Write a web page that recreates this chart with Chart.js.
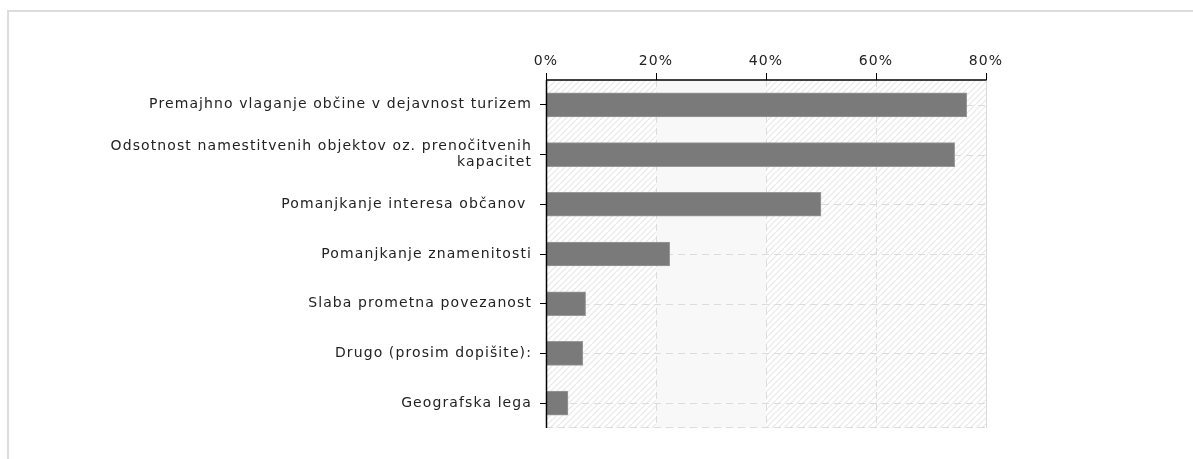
<!DOCTYPE html>
<html><head><meta charset="utf-8">
<script src="https://cdn.jsdelivr.net/npm/chart.js@4"></script>
<style>
html,body{margin:0;padding:0;background:#fff;}
#wrap{position:relative;width:1193px;height:459px;overflow:hidden;}
#frame{position:absolute;left:7px;top:10px;width:1300px;height:600px;border-top:2px solid #dcdcdc;border-left:2px solid #dcdcdc;}
canvas{position:absolute;left:0;top:0;}
</style></head>
<body>
<div id="wrap"><div id="frame"></div><canvas id="c" width="1193" height="459"></canvas></div>
<script>
const categories = [
  'Premajhno vlaganje občine v dejavnost turizem',
  ['Odsotnost namestitvenih objektov oz. prenočitvenih', 'kapacitet'],
  'Pomanjkanje interesa občanov ',
  'Pomanjkanje znamenitosti',
  'Slaba prometna povezanost',
  'Drugo (prosim dopišite):',
  'Geografska lega'
];
const percentages = [76.5, 74.3, 50.0, 22.5, 7.2, 6.7, 4.0];
const xTicks = [0, 20, 40, 60, 80];

const FONT = {family: 'DejaVu Sans', size: 14, lineHeight: 1.15};
const SPACING = '1.1px';

const spacingPlugin = {
  id: 'spacing',
  beforeLayout(chart) { chart.ctx.letterSpacing = SPACING; },
  beforeDraw(chart) { chart.ctx.letterSpacing = SPACING; }
};

const bgPlugin = {
  id: 'bg',
  beforeDatasetsDraw(chart) {
    const {ctx, chartArea: a, scales: {x, y}} = chart;
    ctx.save();
    const pc = document.createElement('canvas');
    pc.width = 6; pc.height = 6;
    const p = pc.getContext('2d');
    p.fillStyle = '#ffffff'; p.fillRect(0,0,6,6);
    p.strokeStyle = '#e8e8e8'; p.lineWidth = 1.2;
    p.beginPath(); p.moveTo(-1,7); p.lineTo(7,-1); p.moveTo(-1,1); p.lineTo(1,-1); p.moveTo(5,7); p.lineTo(7,5); p.stroke();
    ctx.fillStyle = ctx.createPattern(pc, 'repeat');
    ctx.fillRect(a.left, a.top, a.right - a.left, a.bottom - a.top);
    ctx.fillStyle = '#f8f8f8';
    const x20 = x.getPixelForValue(20), x40 = x.getPixelForValue(40);
    ctx.fillRect(x20, a.top, x40 - x20, a.bottom - a.top);
    ctx.strokeStyle = '#dcdcdc'; ctx.lineWidth = 1; ctx.setLineDash([7,5]);
    xTicks.forEach(v => {
      if (v === 0 || v === 80) return;
      const px = Math.round(x.getPixelForValue(v)) + 0.5;
      ctx.beginPath(); ctx.moveTo(px, a.top); ctx.lineTo(px, a.bottom); ctx.stroke();
    });
    categories.forEach((c, i) => {
      const py = Math.round(y.getPixelForValue(i)) + 0.5;
      ctx.beginPath(); ctx.moveTo(a.left, py); ctx.lineTo(a.right, py); ctx.stroke();
    });
    ctx.beginPath(); ctx.moveTo(a.left, a.bottom - 0.5); ctx.lineTo(a.right, a.bottom - 0.5); ctx.stroke();
    ctx.setLineDash([]);
    ctx.strokeStyle = '#dadada';
    const rx = Math.round(x.getPixelForValue(80)) + 0.5;
    ctx.beginPath(); ctx.moveTo(rx, a.top); ctx.lineTo(rx, a.bottom); ctx.stroke();
    ctx.restore();
  },
  afterDatasetsDraw(chart) {
    const {ctx, chartArea: a} = chart;
    ctx.save();
    ctx.strokeStyle = '#000'; ctx.lineWidth = 1.5; ctx.setLineDash([]);
    const lx = Math.round(a.left) + 0.5, ty = Math.round(a.top);
    ctx.beginPath(); ctx.moveTo(lx, ty); ctx.lineTo(a.right + 0.5, ty); ctx.stroke();
    ctx.beginPath(); ctx.moveTo(lx, ty); ctx.lineTo(lx, a.bottom); ctx.stroke();
    ctx.restore();
  }
};

new Chart(document.getElementById('c'), {
  type: 'bar',
  data: {
    labels: categories,
    datasets: [{
      data: percentages,
      backgroundColor: '#7a7a7a',
      borderColor: '#9a9a9a',
      borderWidth: 1,
      borderSkipped: false,
      barThickness: 24
    }]
  },
  options: {
    indexAxis: 'y',
    responsive: false,
    animation: false,
    events: [],
    layout: {padding: {right: 207, bottom: 31, left: 0, top: 0}},
    plugins: {legend: {display: false}, tooltip: {enabled: false}},
    scales: {
      x: {
        position: 'top',
        min: 0, max: 80,
        afterFit(s) { s.height = 80; },
        afterBuildTicks(s) { s.ticks = xTicks.map(v => ({value: v})); },
        ticks: {callback: v => v + '%', color: '#222', font: FONT, padding: 4, maxRotation: 0},
        grid: {drawOnChartArea: false, drawTicks: true, tickLength: 7, tickColor: '#000', tickWidth: 1},
        border: {display: false}
      },
      y: {
        afterFit(s) { s.width = 546; },
        ticks: {color: '#222', font: FONT, padding: 8, autoSkip: false},
        grid: {drawOnChartArea: false, drawTicks: true, tickLength: 6, tickColor: '#000', tickWidth: 1, offset: false},
        border: {display: false}
      }
    }
  },
  plugins: [spacingPlugin, bgPlugin]
});
</script>
</body></html>
